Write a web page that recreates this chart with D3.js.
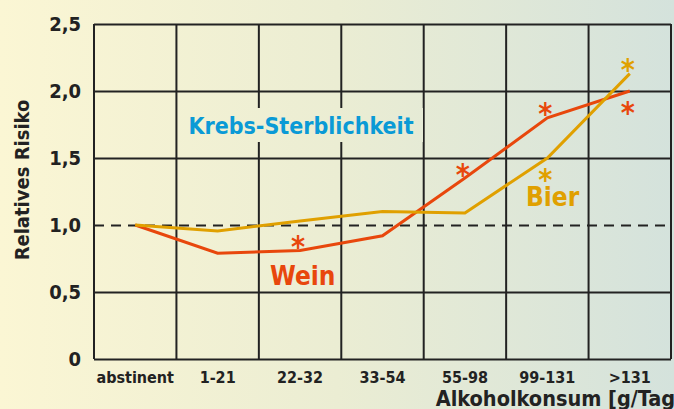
<!DOCTYPE html>
<meta charset="utf-8">
<style>
body { margin: 0; }
text { font-family: "DejaVu Sans Condensed", "DejaVu Sans", sans-serif; font-weight: bold; font-stretch: condensed; }
.grid line { stroke: #222; stroke-width: 2px; }
.grid path { display: none; }
</style>
<svg width="674" height="409"></svg>
<script src="https://cdn.jsdelivr.net/npm/d3@7"></script>
<script>

var categories = ["abstinent", "1-21", "22-32", "33-54", "55-98", "99-131", ">131"];
var wein = [1.0, 0.79, 0.81, 0.92, 1.35, 1.80, 2.00];
var bier = [1.0, 0.955, 1.03, 1.10, 1.09, 1.50, 2.13];
// significance stars: "above" / "below" the point, or null
var weinSig = [null, null, "above", null, "above", "above", "below"];
var bierSig = [null, null, null, null, null, "below", "above"];
var yTicks = [0, 0.5, 1.0, 1.5, 2.0, 2.5];
var yTickLabels = ["0", "0,5", "1,0", "1,5", "2,0", "2,5"];

var svg = d3.select("svg"),
    margin = {top: 24, right: 3, bottom: 50, left: 94},
    w = 674 - margin.left - margin.right,
    h = 409 - margin.top - margin.bottom;

// background gradient
var grad = svg.append("defs").append("linearGradient")
    .attr("id", "bg").attr("gradientUnits", "userSpaceOnUse")
    .attr("x1", 0).attr("x2", 674).attr("y1", 0).attr("y2", 0);
grad.append("stop").attr("offset", "0").attr("stop-color", "#fbf6d4");
grad.append("stop").attr("offset", "0.5").attr("stop-color", "#ebedd3");
grad.append("stop").attr("offset", "1").attr("stop-color", "#d4e2dc");
svg.append("rect").attr("width", 674).attr("height", 409).attr("fill", "url(#bg)");

var x = d3.scaleBand().domain(categories).range([0, w]),
    y = d3.scaleLinear().domain([0, 2.5]).range([h, 0]);

var g = svg.append("g").attr("transform", "translate(" + margin.left + "," + margin.top + ")");

// horizontal grid + y labels
var yAxis = g.append("g")
    .attr("class", "grid")
    .call(d3.axisLeft(y).tickValues(yTicks)
      .tickFormat(function(d, i) { return yTickLabels[i]; })
      .tickSize(-w).tickPadding(13));
yAxis.selectAll("text").style("font-size", "20px").attr("fill", "#222");
yAxis.selectAll(".tick").filter(function(d) { return d === 1; }).select("line")
    .style("stroke-dasharray", "10,7").attr("x1", 0);

// vertical grid lines at column boundaries
var bounds = categories.map(function(c) { return x(c); }).concat([w]);
g.selectAll(".vline")
  .data(bounds)
  .enter().append("line")
    .attr("class", "vline")
    .attr("x1", function(d) { return d; })
    .attr("x2", function(d) { return d; })
    .attr("y1", 0)
    .attr("y2", h)
    .attr("stroke", "#222")
    .attr("stroke-width", 2);

// x labels
var xAxis = g.append("g")
    .attr("transform", "translate(0," + h + ")")
    .call(d3.axisBottom(x).tickSize(0).tickPadding(13));
xAxis.select(".domain").remove();
xAxis.selectAll("text").style("font-size", "16px").attr("fill", "#222");

// axis titles
svg.append("text")
    .attr("transform", "translate(29,180) rotate(-90)")
    .attr("text-anchor", "middle")
    .attr("fill", "#222")
    .style("font-size", "20px")
    .text("Relatives Risiko");

svg.append("text")
    .attr("x", 684)
    .attr("y", 406)
    .attr("text-anchor", "end")
    .attr("fill", "#222")
    .style("font-size", "21.5px")
    .text("Alkoholkonsum [g/Tag]");

// title with knockout background (hides the grid behind it)
svg.append("rect")
    .attr("x", 183).attr("y", 108)
    .attr("width", 240).attr("height", 34)
    .attr("fill", "url(#bg)");
svg.append("text")
    .attr("x", 301)
    .attr("y", 134)
    .attr("text-anchor", "middle")
    .attr("fill", "#0a9ad6")
    .style("font-size", "23px")
    .text("Krebs-Sterblichkeit");

var line = d3.line()
    .x(function(d, i) { return x(categories[i]) + x.bandwidth() / 2; })
    .y(function(d) { return y(d); });

var series = [
  {name: "Wein", values: wein, sig: weinSig, color: "#e8470c"},
  {name: "Bier", values: bier, sig: bierSig, color: "#e0a000"}
];

var starSize = 30;
series.forEach(function(s) {
  g.append("path")
      .attr("d", line(s.values))
      .attr("fill", "none")
      .attr("stroke", s.color)
      .attr("stroke-width", 3);

  g.selectAll(null)
    .data(s.values.map(function(v, i) { return {v: v, i: i, pos: s.sig[i]}; })
      .filter(function(d) { return d.pos; }))
    .enter().append("text")
      .attr("x", function(d) { return x(categories[d.i]) + x.bandwidth() / 2 - 2; })
      .attr("y", function(d) { return y(d.v) + (d.pos === "above" ? -11 : 15) + 0.58 * starSize; })
      .attr("text-anchor", "middle")
      .attr("fill", s.color)
      .style("font-size", starSize + "px")
      .text("*");
});

// series labels
svg.append("text").attr("x", 270).attr("y", 285)
    .attr("fill", "#e8470c").style("font-size", "26px").text("Wein");
svg.append("text").attr("x", 526).attr("y", 206)
    .attr("fill", "#e0a000").style("font-size", "26px").text("Bier");

</script>
